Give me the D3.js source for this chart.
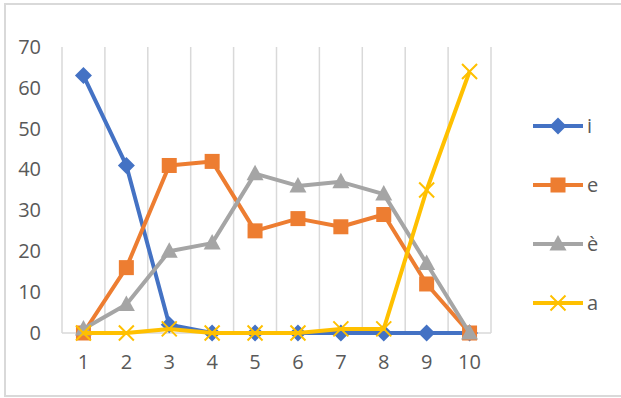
<!DOCTYPE html>
<html>
<head>
<meta charset="utf-8">
<script src="https://cdn.jsdelivr.net/npm/d3@7"></script>
<style>
  html, body { margin: 0; padding: 0; background: #fff; }
  svg { display: block; }
  text { font-family: "Open Sans", "DejaVu Sans", sans-serif; fill: #595959; }
</style>
</head>
<body>
<svg id="chart" width="621" height="398"></svg>
<script>
// Categories along the x axis
const categories = [1, 2, 3, 4, 5, 6, 7, 8, 9, 10];
// Series values, one per category
const seriesI = [63, 41, 2, 0, 0, 0, 0, 0, 0, 0];
const seriesE = [0, 16, 41, 42, 25, 28, 26, 29, 12, 0];
const seriesEgrave = [1, 7, 20, 22, 39, 36, 37, 34, 17, 0];
const seriesA = [0, 0, 1, 0, 0, 0, 1, 1, 35, 64];
const seriesNames = ["i", "e", "è", "a"];
const yTicks = [0, 10, 20, 30, 40, 50, 60, 70];

const series = [
  { name: seriesNames[0], values: seriesI, color: "#4472C4", marker: "diamond" },
  { name: seriesNames[1], values: seriesE, color: "#ED7D31", marker: "square" },
  { name: seriesNames[2], values: seriesEgrave, color: "#A5A5A5", marker: "triangle" },
  { name: seriesNames[3], values: seriesA, color: "#FFC000", marker: "cross" }
];

const svg = d3.select("#chart");

// Chart frame
svg.append("rect")
  .attr("x", 5).attr("y", 4)
  .attr("width", 640).attr("height", 392)
  .attr("fill", "#fff")
  .attr("stroke", "#d9d9d9")
  .attr("stroke-width", 2);

const plot = { left: 62, right: 491, top: 47, bottom: 333 };

const x = d3.scaleBand()
  .domain(categories)
  .range([plot.left, plot.right]);

const y = d3.scaleLinear()
  .domain([0, 70])
  .range([plot.bottom, plot.top]);

// Vertical gridlines at category boundaries
const bounds = categories.map(c => x(c)).concat([plot.right]);
svg.append("g")
  .selectAll("line")
  .data(bounds)
  .join("line")
  .attr("x1", d => d).attr("x2", d => d)
  .attr("y1", plot.top).attr("y2", plot.bottom)
  .attr("stroke", "#d9d9d9")
  .attr("stroke-width", 1.5);

// Horizontal axis line
svg.append("line")
  .attr("x1", plot.left).attr("x2", plot.right)
  .attr("y1", y(0)).attr("y2", y(0))
  .attr("stroke", "#d9d9d9")
  .attr("stroke-width", 1.5);

// Y axis labels
const yAxis = d3.axisLeft(y).tickValues(yTicks).tickSize(0).tickPadding(0);
const yg = svg.append("g").attr("transform", `translate(${plot.left - 21},0)`).call(yAxis);
yg.select(".domain").remove();
yg.selectAll("text")
  .attr("font-size", 20)
  .attr("fill", "#595959")
  .style("font-family", '"Open Sans", sans-serif');

// X axis labels
const xAxis = d3.axisBottom(x).tickSize(0).tickPadding(0);
const xg = svg.append("g").attr("transform", `translate(0,${plot.bottom + 29})`).call(xAxis);
xg.select(".domain").remove();
xg.selectAll("text")
  .attr("font-size", 20)
  .attr("fill", "#595959")
  .attr("dy", "0.35em")
  .style("font-family", '"Open Sans", sans-serif');

const cx = c => x(c) + x.bandwidth() / 2;

function drawMarker(g, type, color) {
  if (type === "diamond") {
    g.append("path").attr("d", "M0,-8.5L8.5,0L0,8.5L-8.5,0Z").attr("fill", color);
  } else if (type === "square") {
    g.append("rect").attr("x", -7.5).attr("y", -7.5).attr("width", 15).attr("height", 15).attr("fill", color);
  } else if (type === "triangle") {
    g.append("path").attr("d", "M0,-9L8.5,6.5L-8.5,6.5Z").attr("fill", color);
  } else if (type === "cross") {
    g.append("path").attr("d", "M-7.5,-7.5L7.5,7.5M-7.5,7.5L7.5,-7.5")
      .attr("stroke", color).attr("stroke-width", 2).attr("fill", "none");
  }
}

const line = d3.line()
  .x((d, i) => cx(categories[i]))
  .y(d => y(d));

series.forEach(s => {
  const g = svg.append("g");
  g.append("path")
    .datum(s.values)
    .attr("d", line)
    .attr("fill", "none")
    .attr("stroke", s.color)
    .attr("stroke-width", 4)
    .attr("stroke-linejoin", "round");
  s.values.forEach((v, i) => {
    const m = g.append("g").attr("transform", `translate(${cx(categories[i])},${y(v)})`);
    drawMarker(m, s.marker, s.color);
  });
});

// Legend
const legend = svg.append("g");
series.forEach((s, i) => {
  const ly = 126 + i * 59;
  const row = legend.append("g");
  row.append("line")
    .attr("x1", 533).attr("x2", 583)
    .attr("y1", ly).attr("y2", ly)
    .attr("stroke", s.color).attr("stroke-width", 4);
  const m = row.append("g").attr("transform", `translate(558,${ly})`);
  drawMarker(m, s.marker, s.color);
  row.append("text")
    .attr("x", 587).attr("y", ly)
    .attr("dy", "0.35em")
    .attr("font-size", 20)
    .text(s.name);
});
</script>
</body>
</html>
